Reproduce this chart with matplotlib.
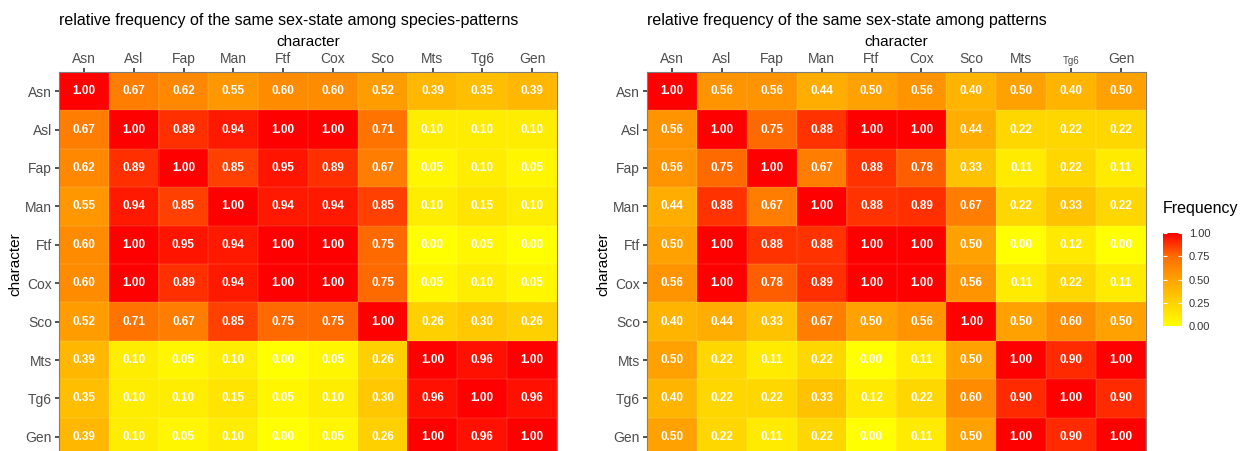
import numpy as np
import matplotlib
matplotlib.use("Agg")
import matplotlib.pyplot as plt
from matplotlib.colors import LinearSegmentedColormap

plt.rcParams['font.family'] = ['Liberation Sans', 'DejaVu Sans']

chars = ['Asn', 'Asl', 'Fap', 'Man', 'Ftf', 'Cox', 'Sco', 'Mts', 'Tg6', 'Gen']

species_freq = [
    [1.00, 0.67, 0.62, 0.55, 0.60, 0.60, 0.52, 0.39, 0.35, 0.39],
    [0.67, 1.00, 0.89, 0.94, 1.00, 1.00, 0.71, 0.10, 0.10, 0.10],
    [0.62, 0.89, 1.00, 0.85, 0.95, 0.89, 0.67, 0.05, 0.10, 0.05],
    [0.55, 0.94, 0.85, 1.00, 0.94, 0.94, 0.85, 0.10, 0.15, 0.10],
    [0.60, 1.00, 0.95, 0.94, 1.00, 1.00, 0.75, 0.00, 0.05, 0.00],
    [0.60, 1.00, 0.89, 0.94, 1.00, 1.00, 0.75, 0.05, 0.10, 0.05],
    [0.52, 0.71, 0.67, 0.85, 0.75, 0.75, 1.00, 0.26, 0.30, 0.26],
    [0.39, 0.10, 0.05, 0.10, 0.00, 0.05, 0.26, 1.00, 0.96, 1.00],
    [0.35, 0.10, 0.10, 0.15, 0.05, 0.10, 0.30, 0.96, 1.00, 0.96],
    [0.39, 0.10, 0.05, 0.10, 0.00, 0.05, 0.26, 1.00, 0.96, 1.00],
]

pattern_freq = [
    [1.00, 0.56, 0.56, 0.44, 0.50, 0.56, 0.40, 0.50, 0.40, 0.50],
    [0.56, 1.00, 0.75, 0.88, 1.00, 1.00, 0.44, 0.22, 0.22, 0.22],
    [0.56, 0.75, 1.00, 0.67, 0.88, 0.78, 0.33, 0.11, 0.22, 0.11],
    [0.44, 0.88, 0.67, 1.00, 0.88, 0.89, 0.67, 0.22, 0.33, 0.22],
    [0.50, 1.00, 0.88, 0.88, 1.00, 1.00, 0.50, 0.00, 0.12, 0.00],
    [0.56, 1.00, 0.78, 0.89, 1.00, 1.00, 0.56, 0.11, 0.22, 0.11],
    [0.40, 0.44, 0.33, 0.67, 0.50, 0.56, 1.00, 0.50, 0.60, 0.50],
    [0.50, 0.22, 0.11, 0.22, 0.00, 0.11, 0.50, 1.00, 0.90, 1.00],
    [0.40, 0.22, 0.22, 0.33, 0.12, 0.22, 0.60, 0.90, 1.00, 0.90],
    [0.50, 0.22, 0.11, 0.22, 0.00, 0.11, 0.50, 1.00, 0.90, 1.00],
]

# yellow -> red, roughly like ggplot's Lab gradient
cmap = LinearSegmentedColormap.from_list(
    'yr', [(0.0, '#FFFF00'), (0.25, '#FFD200'), (0.5, '#FFA200'),
           (0.75, '#FF6C00'), (1.0, '#FF0000')])

W, H = 1254, 451
fig = plt.figure(figsize=(W / 100, H / 100), dpi=100)
ax1 = fig.add_axes([59 / W, 1 - 456 / H, 498 / W, 384 / H])
ax2 = fig.add_axes([647 / W, 1 - 456 / H, 499 / W, 384 / H])


def heat(ax, data, title, small_tg6=False):
    arr = np.array(data)
    im = ax.imshow(arr, cmap=cmap, vmin=0, vmax=1, aspect='auto')
    n = len(chars)
    for i in range(n):
        for j in range(n):
            ax.text(j, i, '%.2f' % arr[i, j], ha='center', va='center',
                    color='white', fontsize=8.5, fontweight='bold')
    # faint cell borders
    for k in range(n + 1):
        ax.axhline(k - 0.5, color='white', lw=0.3, alpha=0.35)
        ax.axvline(k - 0.5, color='white', lw=0.3, alpha=0.35)
    ax.set_xticks(range(n))
    ax.set_yticks(range(n))
    ax.set_xticklabels(chars)
    ax.set_yticklabels(chars)
    ax.xaxis.tick_top()
    ax.tick_params(length=3, width=1.2, color='#333333', labelcolor='#4D4D4D',
                   labelsize=10, pad=2)
    ax.tick_params(axis='x', pad=1)
    if small_tg6:
        ax.get_xticklabels()[8].set_fontsize(7)
    ax.set_ylabel('character', fontsize=11, labelpad=2)
    for s in ax.spines.values():
        s.set_color('#7F7F7F')
        s.set_linewidth(0.8)
    pos = ax.get_position()
    fig.text(pos.x0 + pos.width / 2, 1 - 42 / H, 'character', fontsize=11,
             ha='center', va='center')
    fig.text(pos.x0, 1 - 20 / H, title, fontsize=11.5, ha='left', va='center')
    return im


heat(ax1, species_freq, 'relative frequency of the same sex-state among species-patterns')
im = heat(ax2, pattern_freq, 'relative frequency of the same sex-state among patterns', small_tg6=True)

cax = fig.add_axes([1163 / W, 1 - 326 / H, 19 / W, 93 / H])
cb = fig.colorbar(im, cax=cax, ticks=[0, 0.25, 0.5, 0.75, 1.0])
cb.ax.set_yticklabels(['0.00', '0.25', '0.50', '0.75', '1.00'])
cb.ax.tick_params(direction='in', left=True, right=True, length=3, width=0.8,
                  color='white', labelsize=8, labelcolor='#333333', pad=5)
cb.outline.set_visible(False)
fig.text(1163 / W, 1 - 209 / H, 'Frequency', fontsize=11.5, va='center')

fig.savefig('out.png', dpi=100)
